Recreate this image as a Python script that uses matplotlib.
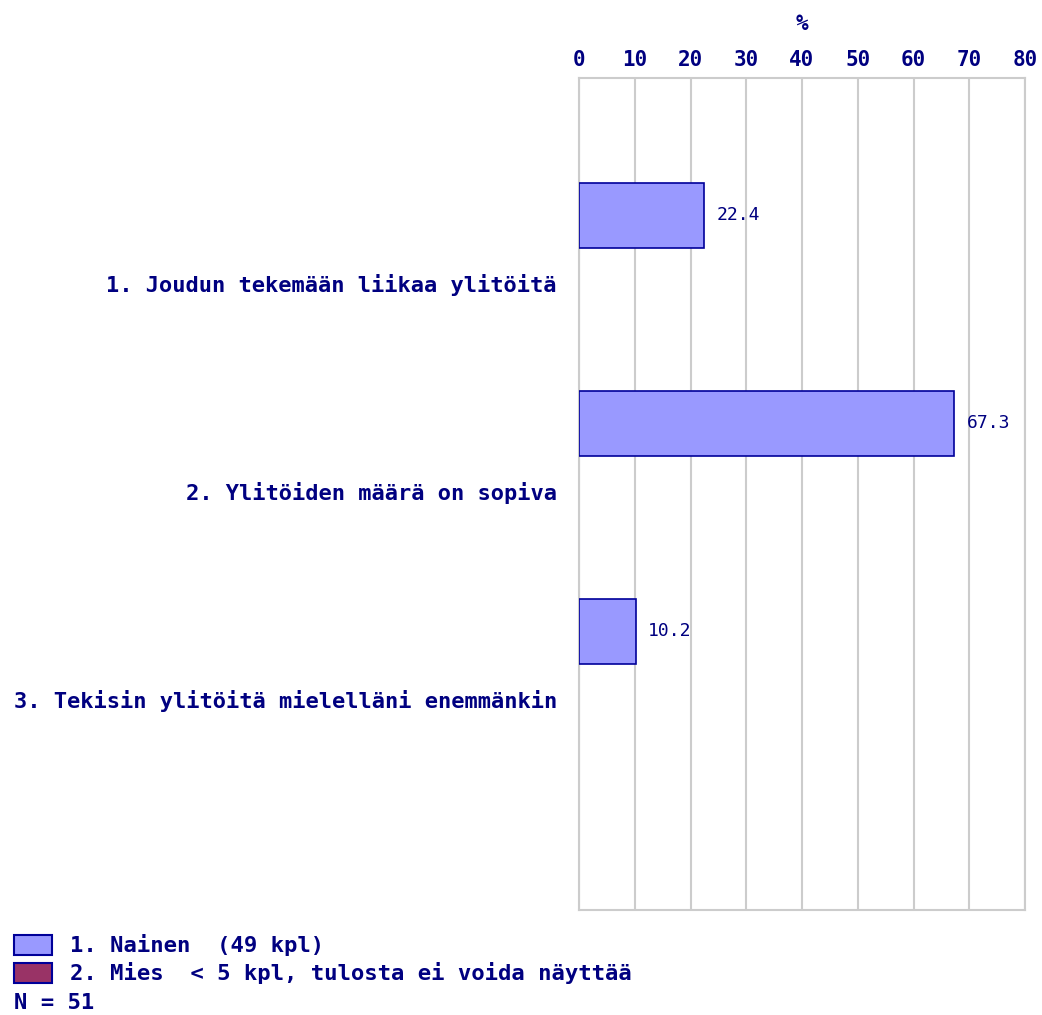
import matplotlib

matplotlib.use("Agg")
import matplotlib.pyplot as plt
from matplotlib.patches import Rectangle

categories = [
    "1. Joudun tekemään liikaa ylitöitä",
    "2. Ylitöiden määrä on sopiva",
    "3. Tekisin ylitöitä mielelläni enemmänkin",
]
values = [22.4, 67.3, 10.2]
ticks = [0, 10, 20, 30, 40, 50, 60, 70, 80]
legend_labels = ["1. Nainen  (49 kpl)", "2. Mies  < 5 kpl, tulosta ei voida näyttää"]
legend_colors = ["#9999ff", "#993366"]
n_text = "N = 51"

NAVY = "#000080"
FONT = "DejaVu Sans Mono"

W, H = 1042, 1015
fig = plt.figure(figsize=(W / 100, H / 100), dpi=100)
ax = fig.add_axes([579 / W, 1 - 910 / H, (1025 - 579) / W, (910 - 78) / H])

# bars sit in the upper part of each slot, label under them
bar_pos = [i + 0.66 for i in range(len(values))]
ax.barh(bar_pos, values, height=0.3125, color=legend_colors[0], edgecolor="#000099",
        linewidth=1.2, zorder=3)
for y, v in zip(bar_pos, values):
    ax.text(v + 2.2, y, f"{v:.1f}", va="center", ha="left", color=NAVY,
            family=FONT, fontsize=13, zorder=4)

ax.set_xlim(0, 80)
ax.set_ylim(4, 0)
ax.xaxis.tick_top()
ax.set_xticks(ticks)
ax.set_xticklabels([str(t) for t in ticks], family=FONT, fontweight="bold",
                   color=NAVY, fontsize=15)
ax.tick_params(axis="x", length=0, pad=6)
ax.set_xlabel("%", family=FONT, fontweight="bold", color=NAVY, fontsize=15, labelpad=14)
ax.xaxis.set_label_position("top")

ax.set_yticks([i + 0.985 for i in range(len(categories))])
ax.set_yticklabels(categories, family=FONT, fontweight="bold", color=NAVY, fontsize=15.8)
ax.tick_params(axis="y", length=0, pad=16)

ax.grid(axis="x", color="#cccccc", linewidth=1.5, zorder=0)
for s in ax.spines.values():
    s.set_color("#cccccc")
    s.set_linewidth(1.5)

# legend drawn in figure pixels
for i, (lab, col) in enumerate(zip(legend_labels, legend_colors)):
    y0 = 935 + i * 28
    fig.patches.append(Rectangle((14 / W, 1 - (y0 + 20) / H), 38 / W, 20 / H,
                                 transform=fig.transFigure, facecolor=col,
                                 edgecolor="#000099", linewidth=1.5))
    fig.text(70 / W, 1 - (y0 + 10) / H, lab, va="center", ha="left", color=NAVY,
             family=FONT, fontweight="bold", fontsize=16)
fig.text(14 / W, 1 - 1003 / H, n_text, va="center", ha="left", color=NAVY,
         family=FONT, fontweight="bold", fontsize=16)

fig.savefig("out.png", dpi=100)
